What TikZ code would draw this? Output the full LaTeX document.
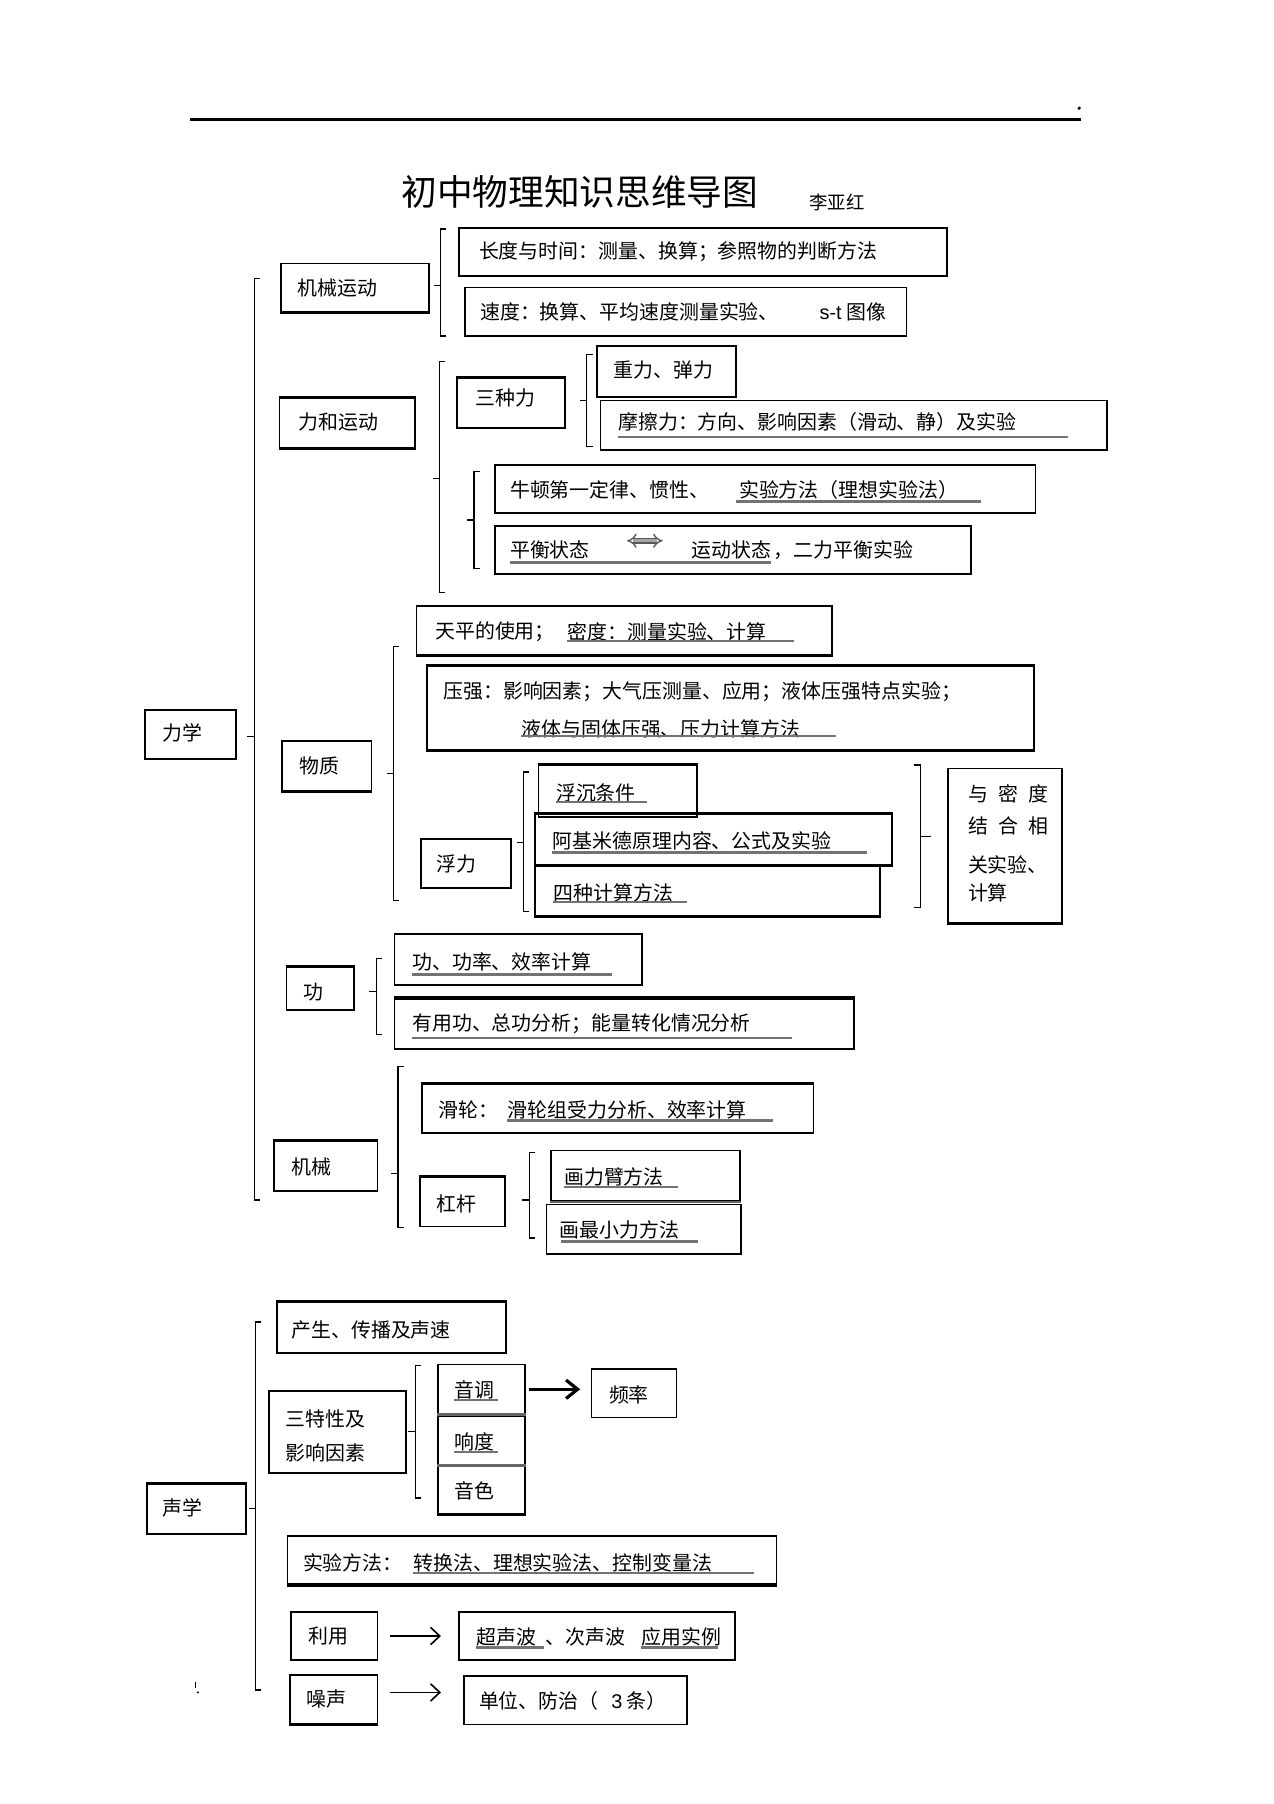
\documentclass[tikz,border=0pt]{standalone}
\usepackage{fontspec}
\setmainfont{Noto Sans CJK SC}
\newfontfamily\latinsans{Liberation Sans}
\usetikzlibrary{fit,arrows.meta}
\newcommand\mybox[5]{\node[box, fit={(#2,#3) (#4,#5)}] (#1) {};}
\newcommand\mytxt[4]{\node[txt] (#1) at (#2,#3) {#4};}
\newcommand\myul[3]{\draw[ul] (#1,#3) -- (#2,#3);}
\newcommand\mybrL[4]{\draw[br] ({#1+5},#2) -- (#1,#2) -- (#1,#3) -- ({#1+5},#3); \draw[br] (#1,#4) -- ({#1-6},#4);}
\newcommand\mybrR[4]{\draw[br] ({#1-6},#2) -- (#1,#2) -- (#1,#3) -- ({#1-6},#3); \draw[br] (#1,#4) -- ({#1+9},#4);}
\newcommand\myedge[3]{\draw[edge,#3] (#1.#2 west) -- (#1.#2 east);}
\begin{document}
\begin{tikzpicture}[x=0.5pt,y=-0.5pt,
 box/.style={draw, line width=0.75pt, inner sep=0pt, rectangle},
 txt/.style={anchor=west, inner sep=0pt, font=\fontsize{8.65}{10}\selectfont},
 ul/.style={draw=black!55, line width=1pt},
 br/.style={line width=0.55pt},
 edge/.style={line width=1.2pt},
 bigarr/.style={line width=1.4pt, -{Straight Barb[length=5pt,width=8pt]}},
 smallarr/.style={line width=0.7pt, -{Straight Barb[length=4pt,width=7.5pt]}}]
\path[use as bounding box, fill=white] (0,0) rectangle (1107,1568);

% header
\draw[line width=1.1pt] (165,104) -- (940,104);
\fill (938,94) circle (0.8pt);
\node[inner sep=0pt, font=\fontsize{15.5}{18}\selectfont] (title) at (504,167) {初中物理知识思维导图};
\node[txt, font=\fontsize{8}{10}\selectfont] (author) at (703,176) {李亚红};

% 力学
\mybox{lx}{126}{617}{205}{660} \mytxt{lxt}{141}{637}{力学}
\mybrL{221}{242}{1043}{640}

% 机械运动
\mybox{jxyd}{244}{229}{373}{271} \mytxt{jxydt}{258}{250}{机械运动}
\myedge{jxyd}{south}{}
\mybrL{383}{199}{292}{248}
\mybox{cd}{399}{198}{823}{240} \mytxt{cdt}{416}{219}{长度与时间：测量、换算；参照物的判断方法}
\mybox{sd}{404}{250}{788}{292} \mytxt{sdt}{417}{271}{速度：换算、平均速度测量实验、}
\mytxt{sdt2}{712}{271}{{\latinsans s-t} 图像}

% 力和运动
\mybox{lhyd}{243}{346}{361}{389} \mytxt{lhydt}{259}{367}{力和运动}
\myedge{lhyd}{north}{} \myedge{lhyd}{south}{}
\mybrL{382}{314}{515}{416}
\mybox{szl}{397}{329}{491}{372} \mytxt{szlt}{413}{346}{三种力}
\myedge{szl}{north}{}
\mybrL{510}{308}{388}{348}
\mybox{zl}{519}{301}{640}{345} \mytxt{zlt}{533}{322}{重力、弹力}
\mybox{mcl}{522}{348}{962}{391} \mytxt{mclt}{537}{367}{摩擦力：方向、影响因素（滑动、静）及实验}
\myul{537}{928}{380}
\mybrL{412}{410}{494}{452}
\mybox{nd}{430}{404}{900}{446} \mytxt{ndt}{443}{426}{牛顿第一定律、惯性、} \mytxt{ndt2}{642}{426}{实验方法（理想实验法）}
\myul{640}{853}{436}
\mybox{ph}{430}{457}{844}{499} \mytxt{pht}{443}{478}{平衡状态} \mytxt{pht2}{601}{478}{运动状态} \mytxt{pht3}{672}{478}{，二力平衡实验}
\myul{443}{670}{489}
\draw[draw=black!65, double=black!35, double distance=1.5pt, line width=0.6pt, {Implies}-{Implies}] (545,470) -- (576,470);

% 物质
\mybox{wz}{245}{644}{323}{687} \mytxt{wzt}{260}{666}{物质}
\myedge{wz}{south}{}
\mybrL{342}{562}{783}{672}
\mybox{tp}{362}{527}{723}{569} \mytxt{tpt}{378}{549}{天平的使用；} \mytxt{tpt2}{493}{549}{密度：测量实验、计算}
\myedge{tp}{south}{}
\myul{493}{690}{557}
\mybox{yq}{371}{579}{899}{652} \mytxt{yqt}{385}{601}{压强：影响因素；大气压测量、应用；液体压强特点实验；}
\mytxt{yqt2}{453}{634}{液体与固体压强、压力计算方法}
\myedge{yq}{north}{} \myedge{yq}{south}{}
\myul{453}{727}{640}
\mybox{fl}{366}{729}{444}{772} \mytxt{flt}{379}{751}{浮力}
\mybrL{455}{671}{792}{732}
\mybox{fc}{468}{665}{606}{710} \mytxt{fct}{483}{689}{浮沉条件} \myul{483}{562}{697}
\myedge{fc}{north}{}
\mybox{ajm}{465}{708}{775}{752} \mytxt{ajmt}{480}{731}{阿基米德原理内容、公式及实验} \myul{480}{754}{741}
\myedge{ajm}{north}{} \myedge{ajm}{south}{}
\mybox{sz}{465}{752}{765}{796} \mytxt{szt}{481}{776}{四种计算方法} \myul{481}{597}{784}
\myedge{sz}{south}{}
\mybrR{800}{665}{789}{727}
\mybox{ymd}{824}{668}{923}{802}
\myedge{ymd}{south}{}
\mytxt{ymd1}{841}{690}{与\hspace{4.5pt}密\hspace{4.5pt}度}
\mytxt{ymd2}{841}{718}{结\hspace{4.5pt}合\hspace{4.5pt}相}
\mytxt{ymd3}{841}{752}{关实验、}
\mytxt{ymd4}{841}{776}{计算}

% 功
\mybox{g}{249}{841}{308}{878} \mytxt{gt}{263}{862}{功}
\myedge{g}{north}{}
\mybrL{327}{833}{899}{862}
\mybox{gl}{343}{812}{558}{856} \mytxt{glt}{358}{836}{功、功率、效率计算} \myul{358}{532}{847}
\mybox{yyg}{343}{868}{742}{912} \mytxt{yygt}{358}{890}{有用功、总功分析；能量转化情况分析} \myul{358}{688}{902}
\myedge{yyg}{north}{}

% 机械
\mybox{jx}{238}{992}{328}{1035} \mytxt{jxt}{253}{1014}{机械}
\myedge{jx}{north}{}
\mybrL{346}{927}{1067}{1020}
\mybox{hl}{367}{942}{707}{985} \mytxt{hlt}{381}{965}{滑轮：} \mytxt{hlt2}{441}{965}{滑轮组受力分析、效率计算} \myul{441}{672}{974}
\myedge{hl}{north}{}
\mybox{gg}{365}{1023}{439}{1066} \mytxt{ggt}{379}{1046}{杠杆}
\myedge{gg}{north}{}
\mybrL{460}{1002}{1076}{1043}
\mybox{hlb}{479}{1000}{643}{1044} \mytxt{hlbt}{490}{1023}{画力臂方法} \myul{490}{589}{1032}
\myedge{hlb}{south}{black!60}
\mybox{hzx}{475}{1047}{644}{1090} \mytxt{hzxt}{486}{1069}{画最小力方法} \myul{488}{607}{1079}

% 声学
\mybox{sx}{128}{1290}{214}{1333} \mytxt{sxt}{141}{1311}{声学}
\myedge{sx}{north}{}
\mybrL{222}{1149}{1469}{1311}
\mybox{cs}{241}{1132}{440}{1176} \mytxt{cst}{253}{1156}{产生、传播及声速}
\myedge{cs}{north}{}
\mybox{stx}{234}{1209}{353}{1280} \mytxt{stxt}{248}{1233}{三特性及} \mytxt{stxt2}{248}{1263}{影响因素}
\mybrL{361}{1187}{1302}{1244}
\mybox{yd}{381}{1186}{456}{1229} \mytxt{ydt}{395}{1208}{音调} \myul{395}{433}{1217}
\mybox{xd}{381}{1231}{456}{1273} \mytxt{xdt}{395}{1253}{响度} \myul{395}{433}{1262}
\mybox{ys}{381}{1273}{456}{1316} \mytxt{yst}{395}{1296}{音色}
\myedge{yd}{south}{black!60} \myedge{xd}{south}{black!60} \myedge{ys}{south}{}
\mybox{pl}{514}{1190}{588}{1232} \mytxt{plt}{529}{1212}{频率}
\draw[bigarr, shorten <=1.5pt, shorten >=4.5pt] (yd.east) -- (yd.east -| pl.west);

\mybox{syff}{250}{1335}{675}{1377} \mytxt{sy1}{263}{1358}{实验方法：} \mytxt{sy2}{359}{1358}{转换法、理想实验法、控制变量法}
\myul{359}{655}{1367}
\myedge{syff}{south}{}

\mybox{ly}{253}{1401}{328}{1443} \mytxt{lyt}{268}{1422}{利用}
\mybox{csb}{399}{1401}{639}{1443} \mytxt{c1}{414}{1423}{超声波} \mytxt{c2}{474}{1423}{、次声波} \mytxt{c3}{557}{1423}{应用实例}
\myul{414}{473}{1432} \myul{557}{624}{1432}
\draw[smallarr, shorten <=5pt, shorten >=7.5pt] (ly.east) -- (ly.east -| csb.west);

\mybox{zs}{252}{1456}{328}{1498} \mytxt{zst}{266}{1477}{噪声}
\myedge{zs}{south}{}
\mybox{dw}{403}{1457}{597}{1499} \mytxt{dwt}{416}{1478}{单位、防治（} \mytxt{dwt2}{531}{1478}{{\latinsans 3} 条）}
\draw[smallarr, shorten <=5pt, shorten >=9.5pt] ([yshift=3pt]zs.east) -- ([yshift=3pt]zs.east -| dw.west);

% stray marks
\draw[line width=0.5pt] (170,1462) -- (170,1467);
\fill (172,1471) circle (0.5pt);
\end{tikzpicture}
\end{document}
